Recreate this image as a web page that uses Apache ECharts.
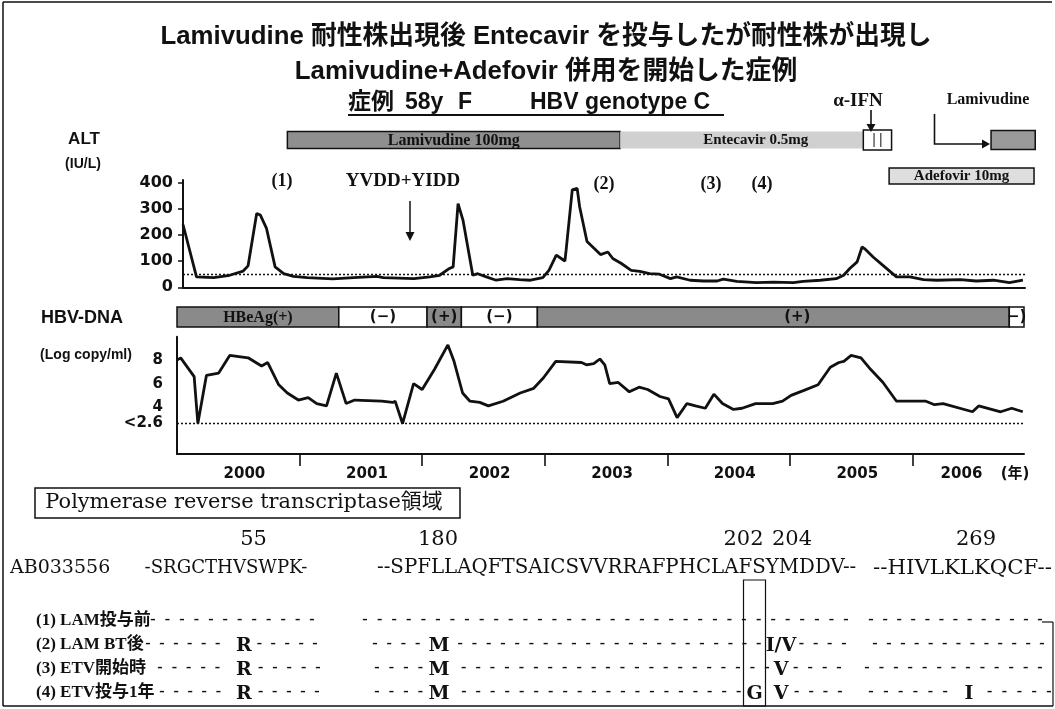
<!DOCTYPE html>
<html><head><meta charset="utf-8">
<script src="https://cdn.jsdelivr.net/npm/echarts@6/dist/echarts.min.js"></script>
<style>html,body{margin:0;padding:0;background:#fff}#c{width:1055px;height:709px}</style>
</head><body><div id="c"></div>
<script>
// ---------------- DATA ----------------
const TITLE_1 = 'Lamivudine 耐性株出現後 Entecavir を投与したが耐性株が出現し';
const TITLE_2 = 'Lamivudine+Adefovir 併用を開始した症例';
const CASE_PARTS = ['症例', '58y', 'F', 'HBV genotype C'];

// ALT (IU/L) over time (decimal years)
const ALT_T = [2000.00,2000.11,2000.25,2000.38,2000.49,2000.53,2000.60,2000.63,2000.68,2000.75,
  2000.82,2000.90,2001.01,2001.22,2001.39,2001.58,2001.63,2001.88,2002.01,2002.09,
  2002.17,2002.20,2002.24,2002.28,2002.36,2002.40,2002.47,2002.55,2002.64,2002.74,
  2002.83,2002.93,2002.98,2003.04,2003.08,2003.11,2003.12,2003.17,2003.21,2003.23,
  2003.29,2003.40,2003.46,2003.50,2003.57,2003.65,2003.72,2003.80,2003.88,2003.97,
  2004.02,2004.13,2004.24,2004.35,2004.40,2004.51,2004.67,2004.81,2004.97,2005.05,
  2005.19,2005.32,2005.38,2005.43,2005.49,2005.53,2005.55,2005.62,2005.70,2005.81,
  2005.92,2006.03,2006.14,2006.33,2006.46,2006.60,2006.73,2006.84];
const ALT_V = [240,40,37,46,62,82,282,276,225,78,
  52,42,37,32,37,42,37,33,40,46,
  72,78,320,257,46,52,40,27,33,29,
  27,37,65,123,110,100,142,372,378,308,
  175,125,135,110,91,65,61,52,50,33,
  40,27,24,24,31,23,18,20,18,23,
  27,33,46,72,97,154,148,116,84,40,
  40,29,27,29,24,27,18,27];
const ALT_TICKS = [0, 100, 200, 300, 400];
const ALT_LIMIT = 50;

// HBV-DNA (Log copy/ml)
const DNA_T = [2000.00,2000.03,2000.14,2000.17,2000.24,2000.34,2000.43,2000.58,2000.69,2000.74,
  2000.83,2000.90,2000.99,2001.07,2001.14,2001.22,2001.30,2001.38,2001.45,2001.67,
  2001.76,2001.78,2001.84,2001.93,2002.00,2002.10,2002.21,2002.26,2002.33,2002.39,
  2002.47,2002.54,2002.66,2002.80,2002.91,2002.99,2003.09,2003.30,2003.34,2003.40,
  2003.45,2003.49,2003.53,2003.60,2003.69,2003.77,2003.84,2003.94,2004.01,2004.08,
  2004.16,2004.23,2004.31,2004.38,2004.45,2004.54,2004.61,2004.72,2004.86,2004.94,
  2005.01,2005.11,2005.23,2005.33,2005.40,2005.44,2005.50,2005.58,2005.66,2005.76,
  2005.87,2006.11,2006.18,2006.25,2006.49,2006.54,2006.72,2006.81,2006.90];
const DNA_V = [8.0,8.2,6.6,2.6,6.7,6.9,8.4,8.2,7.5,7.8,
  5.9,5.2,4.6,4.8,4.3,4.1,6.9,4.3,4.6,4.5,
  4.4,4.5,2.6,6.0,5.5,7.2,9.3,7.9,5.2,4.5,
  4.4,4.1,4.5,5.2,5.6,6.5,7.9,7.8,7.6,7.7,
  8.1,7.6,6.0,6.1,5.3,5.7,5.5,4.9,4.7,3.1,
  4.3,4.1,3.9,5.1,4.3,3.8,3.9,4.3,4.3,4.5,
  5.0,5.4,5.9,7.4,7.8,7.9,8.4,8.2,7.2,6.1,
  4.5,4.5,4.2,4.3,3.6,4.1,3.6,3.9,3.6];
const DNA_TICKS = [2.6, 4, 6, 8];
const DNA_TICK_TEXT = ['<2.6', '4', '6', '8'];
const DNA_LIMIT = 2.6;

const YEARS = ['2000','2001','2002','2003','2004','2005','2006'];
const YEAR_BOUNDS = [2001, 2002, 2003, 2004, 2005, 2006];

// Treatment periods
const THERAPY_NAME  = ['Lamivudine 100mg', 'Entecavir 0.5mg', '', '', 'Adefovir 10mg'];
const THERAPY_KIND  = ['lam', 'etv', 'ifn', 'lam2', 'adv'];
const THERAPY_ROW   = [0, 0, 0, 0, 1];
const THERAPY_START = [2000.85, 2003.56, 2005.54, 2006.58, 2005.75];
const THERAPY_END   = [2003.56, 2005.54, 2005.77, 2006.94, 2006.93];

// HBeAg status periods
const HBEAG_START = [2000.00, 2001.32, 2002.04, 2002.32, 2002.94, 2006.79];
const HBEAG_END   = [2001.32, 2002.04, 2002.32, 2002.94, 2006.79, 2006.91];
const HBEAG_POS   = [true, false, true, false, true, false];
const HBEAG_TEXT  = ['HBeAg(+)', '(−)', '(+)', '(−)', '(+)', '−)'];

// Event labels
const EVENT_LABELS = ['(1)', '(2)', '(3)', '(4)'];
const MUTATION_NOTE = 'YVDD+YIDD';

// Sequence panel
const REGION_TITLE = 'Polymerase reverse transcriptase領域';
const REF_NAME = 'AB033556';
const REF_SEGS = ['-SRGCTHVSWPK-', '--SPFLLAQFTSAICSVVRRAFPHCLAFSYMDDV--', '--HIVLKLKQCF--'];
const POS_LABELS = ['55', '180', '202', '204', '269'];
const SAMPLE_NAMES = ['(1) LAM投与前', '(2) LAM BT後', '(3) ETV開始時', '(4) ETV投与1年'];
const SUB_55  = ['', 'R', 'R', 'R'];
const SUB_180 = ['', 'M', 'M', 'M'];
const SUB_202 = ['', '', '', 'G'];
const SUB_204 = ['', 'I/V', 'V', 'V'];
const SUB_269 = ['', '', '', 'I'];

// ---------------- STYLE / LAYOUT ----------------
const BLACK = '#111';
const SANS = '"Liberation Sans", "Noto Sans CJK JP", sans-serif';
const WIDE = '"DejaVu Sans", "Noto Sans CJK JP", sans-serif';
const SERIF = '"Liberation Serif", "Noto Sans CJK JP", serif';
const DSERIF = '"DejaVu Serif", "Noto Sans CJK JP", serif';

const mctx = document.createElement('canvas').getContext('2d');
function measure(str, font) { mctx.font = font; return mctx.measureText(str).width; }
function fitSize(str, weight, family, target, base) {
  const w = measure(str, weight + ' ' + base + 'px ' + family);
  return w > 0 ? base * target / w : base;
}
function txt(text, x, y, font, align, va, fill) {
  align = align || 'center'; va = va || 'middle';
  return { type: 'text', x: x, y: y, silent: true, z: 10,
    style: { text: text, font: font, fill: fill || BLACK, align: align, verticalAlign: va,
             textAlign: align, textVerticalAlign: va } };
}
function line(x1, y1, x2, y2, w, dash) {
  return { type: 'line', silent: true, z: 10, shape: { x1, y1, x2, y2 },
    style: { stroke: BLACK, lineWidth: w || 1.5, lineDash: dash || null } };
}
function tri(points) {
  return { type: 'polygon', silent: true, z: 10, shape: { points }, style: { fill: BLACK } };
}

const G = [];
// frame
G.push(line(3, 2, 1052, 2, 1.5), line(3, 2, 3, 706, 1.5), line(3, 706, 1053, 706, 1.5),
       line(1053, 622, 1053, 706, 1.2), line(1042, 622, 1053, 622, 1.2));

// titles
const tSize = fitSize(TITLE_1, 'bold', SANS, 772, 26);
G.push(txt(TITLE_1, 546, 37, 'bold ' + tSize.toFixed(1) + 'px ' + SANS));
G.push(txt(TITLE_2, 546, 72, 'bold ' + tSize.toFixed(1) + 'px ' + SANS));

// case line (underlined)
const caseFont = 'bold 23px ' + SANS;
const CASE_X = [348, 405, 458, 530];
CASE_PARTS.forEach((p, i) => G.push(txt(p, CASE_X[i], 103, caseFont, 'left')));
G.push(line(348, 115, 724, 115, 2));

// left labels
G.push(txt('ALT', 84, 139, 'bold 17px ' + SANS));
G.push(txt('(IU/L)', 83, 164, 'bold 14px ' + SANS));
G.push(txt('HBV-DNA', 82, 318, 'bold 18px ' + SANS));
G.push(txt('(Log copy/ml)', 86, 355, 'bold 14px ' + SANS));

// therapy annotations
G.push(txt('α-IFN', 858, 101, 'bold 19px ' + SERIF));
G.push(line(871, 110, 871, 125, 1.6), tri([[866.5, 124], [875.5, 124], [871, 132]]));
G.push(txt('Lamivudine', 988, 100, 'bold 16px ' + SERIF));
G.push({ type: 'polyline', silent: true, z: 10, shape: { points: [[934.5, 114], [934.5, 144], [983, 144]] },
         style: { stroke: BLACK, lineWidth: 1.6, fill: null } });
G.push(tri([[982, 139.5], [982, 148.5], [990, 144]]));

// event labels
const evFont = 'bold 18px ' + SERIF;
G.push(txt(EVENT_LABELS[0], 282, 181, evFont));
G.push(txt(MUTATION_NOTE, 403, 181, 'bold 19px ' + SERIF));
G.push(line(410, 201, 410, 233, 1.5), tri([[405.5, 232], [414.5, 232], [410, 241]]));
G.push(txt(EVENT_LABELS[1], 604, 184, evFont));
G.push(txt(EVENT_LABELS[2], 711, 184, evFont));
G.push(txt(EVENT_LABELS[3], 762, 184, evFont));

// year unit
G.push(txt('(年)', 1015, 474, 'bold 15px ' + WIDE));

// sequence panel
G.push({ type: 'rect', silent: true, z: 10, shape: { x: 35, y: 488, width: 425, height: 30 },
         style: { fill: null, stroke: BLACK, lineWidth: 1.5 } });
const rtSize = fitSize(REGION_TITLE, 'normal', DSERIF, 398, 20);
G.push(txt(REGION_TITLE, 244, 503, rtSize.toFixed(1) + 'px ' + DSERIF));

const POS_HDR_X = [253.5, 438, 743.5, 792, 976];
POS_LABELS.forEach((p, i) => G.push(txt(p, POS_HDR_X[i], 540, '21px ' + DSERIF)));

G.push(txt(REF_NAME, 10, 568, '19px ' + DSERIF, 'left'));
const REF_X = [144.6, 377, 873], REF_W = [163, 479, 179];
REF_SEGS.forEach((s, i) => {
  const sz = fitSize(s, 'normal', DSERIF, REF_W[i], 19);
  G.push(txt(s, REF_X[i], 568, sz.toFixed(1) + 'px ' + DSERIF, 'left'));
});

// boxed column (rt202)
G.push({ type: 'rect', silent: true, z: 10, shape: { x: 743.5, y: 580, width: 22, height: 126 },
         style: { fill: null, stroke: BLACK, lineWidth: 1.2 } });

const ROW_Y = [621, 645, 669, 693];
const DASH_RANGES = [
  [[153, 312], [365, 846], [871, 1040]],
  [[148, 315], [375, 844], [875, 1042]],
  [[160, 318], [377, 839], [867, 1040]],
  [[162, 317], [377, 840], [871, 1049]]];
const SUB_COLS = [SUB_55, SUB_180, SUB_202, SUB_204, SUB_269];
const SUB_X = [244, 439, 754.6, 781, 969];
const SUB_HALF = { 'R': 10, 'M': 12, 'G': 9, 'V': 9, 'I': 5, 'I/V': 14 };
const rowFont = 'bold 17px ' + SERIF;
const subFont = 'bold 19px ' + DSERIF;
const dashFont = 'bold 16px ' + SERIF;
SAMPLE_NAMES.forEach((nm, r) => {
  const y = ROW_Y[r];
  G.push(txt(nm, 36, y, rowFont, 'left'));
  const subs = [];
  SUB_COLS.forEach((col, j) => { if (col[r]) subs.push({ x: SUB_X[j], res: col[r] }); });
  subs.forEach(s => G.push(txt(s.res, s.x, y + 1, subFont)));
  DASH_RANGES[r].forEach(([a, b]) => {
    const n = Math.round((b - a) / 14.4), step = (b - a) / n;
    for (let k = 0; k <= n; k++) {
      const x = a + k * step;
      if (subs.some(s => Math.abs(x - s.x) < SUB_HALF[s.res] + 5)) continue;
      G.push(txt('-', x, y - 1, dashFont));
    }
  });
});

// ---------------- CHART ----------------
const FILLS = {
  lam:  { fill: '#8f8f8f', stroke: BLACK, lw: 1.5, h: 17 },
  etv:  { fill: '#d0d0d0', stroke: null, lw: 0, h: 17 },
  ifn:  { fill: '#ffffff', stroke: BLACK, lw: 1.5, h: 20 },
  lam2: { fill: '#9a9a9a', stroke: BLACK, lw: 1.5, h: 19 },
  adv:  { fill: '#dedede', stroke: BLACK, lw: 1.5, h: 16 }
};
function therapyItem(params, api) {
  const i = api.value(3);
  const row = api.value(0);
  const p0 = api.coord([api.value(1), row]);
  const p1 = api.coord([api.value(2), row]);
  const st = FILLS[THERAPY_KIND[i]];
  const x = p0[0], w = p1[0] - p0[0], y = p0[1] - st.h / 2;
  const children = [{ type: 'rect', shape: { x, y, width: w, height: st.h },
    style: { fill: st.fill, stroke: st.stroke, lineWidth: st.lw } }];
  if (THERAPY_KIND[i] === 'ifn') {
    children.push({ type: 'line', shape: { x1: x + w * 0.38, y1: y + 3, x2: x + w * 0.38, y2: y + st.h - 3 }, style: { stroke: BLACK, lineWidth: 1 } });
    children.push({ type: 'line', shape: { x1: x + w * 0.62, y1: y + 3, x2: x + w * 0.62, y2: y + st.h - 3 }, style: { stroke: BLACK, lineWidth: 1 } });
  }
  if (THERAPY_NAME[i]) {
    const fs = THERAPY_KIND[i] === 'lam' ? 16 : 15;
    children.push({ type: 'text', style: { text: THERAPY_NAME[i], x: x + w / 2 + (THERAPY_KIND[i] === 'etv' ? 14 : 0), y: p0[1] + 0.5,
      align: 'center', verticalAlign: 'middle', textAlign: 'center', textVerticalAlign: 'middle',
      font: 'bold ' + fs + 'px ' + SERIF, fill: BLACK } });
  }
  return { type: 'group', children };
}
function hbeagItem(params, api) {
  const i = api.value(3);
  const p0 = api.coord([api.value(1), 0]);
  const p1 = api.coord([api.value(2), 0]);
  const h = api.size([0, 1])[1];
  const x = p0[0], w = p1[0] - p0[0], y = p0[1] - h / 2;
  const pos = HBEAG_POS[i];
  const first = i === 0;
  return { type: 'group', children: [
    { type: 'rect', shape: { x, y, width: w, height: h },
      style: { fill: pos ? '#8a8a8a' : '#ffffff', stroke: BLACK, lineWidth: 1.5 } },
    { type: 'text', style: { text: HBEAG_TEXT[i], x: x + w / 2 + (i === 4 ? 24 : 0), y: p0[1] + 0.5,
      align: 'center', verticalAlign: 'middle', textAlign: 'center', textVerticalAlign: 'middle',
      font: first ? 'bold 16px ' + SERIF : 'bold 15px ' + WIDE, fill: BLACK } }
  ] };
}

const axisLineStyle = { show: true, lineStyle: { color: BLACK, width: 2 } };
const chart = echarts.init(document.getElementById('c'), null, { renderer: 'canvas' });
chart.setOption({
  animation: false,
  backgroundColor: '#ffffff',
  grid: [
    { left: 183, top: 180, width: 842, height: 107.3, containLabel: false, outerBoundsMode: 'none' },
    { left: 177, top: 336.7, width: 847, height: 117.3, containLabel: false, outerBoundsMode: 'none' },
    { left: 183, top: 122, width: 852, height: 72, containLabel: false, outerBoundsMode: 'none' },
    { left: 177, top: 307, width: 847, height: 20, containLabel: false, outerBoundsMode: 'none' }
  ],
  xAxis: [
    { type: 'value', gridIndex: 0, min: 2000, max: 2006.857, axisLine: axisLineStyle,
      axisTick: { show: false }, axisLabel: { show: false }, splitLine: { show: false } },
    { type: 'value', gridIndex: 1, min: 2000, max: 2006.91, axisLine: axisLineStyle,
      axisTick: { show: true, customValues: YEAR_BOUNDS, length: 12, lineStyle: { color: BLACK, width: 1.6 } },
      axisLabel: { show: true, customValues: YEARS.map((y, i) => +y + (i === 6 ? 0.4 : 0.55)),
        formatter: v => YEARS[Math.floor(v) - 2000], margin: 13, color: BLACK,
        fontFamily: WIDE, fontWeight: 'bold', fontSize: 15 },
      splitLine: { show: false } },
    { type: 'value', gridIndex: 2, min: 2000, max: 2006.938, show: false },
    { type: 'value', gridIndex: 3, min: 2000, max: 2006.91, show: false }
  ],
  yAxis: [
    { type: 'value', gridIndex: 0, min: 0, max: 410, axisLine: axisLineStyle,
      axisTick: { show: true, customValues: ALT_TICKS, length: 5, lineStyle: { color: BLACK, width: 1.5 } },
      axisLabel: { show: true, customValues: ALT_TICKS, margin: 10, color: BLACK,
        fontFamily: WIDE, fontWeight: 'bold', fontSize: 16 },
      splitLine: { show: false } },
    { type: 'value', gridIndex: 1, min: 0, max: 10, axisLine: axisLineStyle,
      axisTick: { show: false },
      axisLabel: { show: true, customValues: DNA_TICKS, margin: 14, color: BLACK,
        formatter: v => DNA_TICK_TEXT[DNA_TICKS.indexOf(v)],
        fontFamily: WIDE, fontWeight: 'bold', fontSize: 15 },
      splitLine: { show: false } },
    { type: 'category', gridIndex: 2, data: ['main', 'adefovir'], inverse: true, show: false },
    { type: 'category', gridIndex: 3, data: ['HBeAg'], show: false }
  ],
  series: [
    { type: 'line', name: 'ALT', xAxisIndex: 0, yAxisIndex: 0, symbol: 'none',
      data: ALT_T.map((t, i) => [t, ALT_V[i]]),
      lineStyle: { color: BLACK, width: 2.8 }, itemStyle: { color: BLACK },
      markLine: { silent: true, symbol: ['none', 'none'], label: { show: false },
        lineStyle: { color: BLACK, type: [2, 2], width: 1.4 }, data: [{ yAxis: ALT_LIMIT }] } },
    { type: 'line', name: 'HBV-DNA', xAxisIndex: 1, yAxisIndex: 1, symbol: 'none',
      data: DNA_T.map((t, i) => [t, DNA_V[i]]),
      lineStyle: { color: BLACK, width: 2.8 }, itemStyle: { color: BLACK },
      markLine: { silent: true, symbol: ['none', 'none'], label: { show: false },
        lineStyle: { color: BLACK, type: [2, 2], width: 1.4 }, data: [{ yAxis: DNA_LIMIT }] } },
    { type: 'custom', name: 'therapy', xAxisIndex: 2, yAxisIndex: 2, clip: false,
      renderItem: therapyItem, encode: { x: [1, 2], y: 0 },
      data: THERAPY_START.map((s, i) => [THERAPY_ROW[i], s, THERAPY_END[i], i]) },
    { type: 'custom', name: 'HBeAg', xAxisIndex: 3, yAxisIndex: 3, clip: false,
      renderItem: hbeagItem, encode: { x: [1, 2], y: 0 },
      data: HBEAG_START.map((s, i) => [0, s, HBEAG_END[i], i]) }
  ],
  graphic: { elements: G }
});
</script>
</body></html>
